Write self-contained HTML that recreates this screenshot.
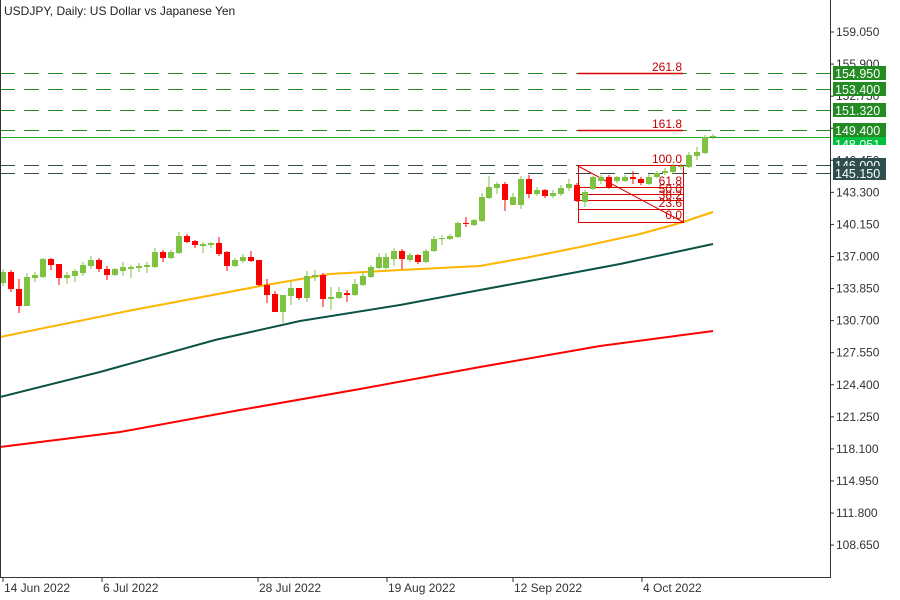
<!DOCTYPE html>
<html><head><meta charset="utf-8"><style>
html,body{margin:0;padding:0;background:#fff;}
svg{display:block;font-family:"Liberation Sans",sans-serif;}
</style></head><body>
<svg id="s" width="900" height="600" xmlns="http://www.w3.org/2000/svg">
<rect width="900" height="600" fill="#fff"/>
<g id="lines"></g>
<!-- MAs -->
<polyline fill="none" stroke="#ff0000" stroke-width="2" points="0,447 120,432 240,410 360,389 480,367 600,346 713,331"/>
<polyline fill="none" stroke="#0b5345" stroke-width="2" points="0,397 100,372 215,340 300,321 400,305 480,290 540,279 620,264 713,244"/>
<polyline fill="none" stroke="#ffb400" stroke-width="2" points="0,337 133,310 266,285 330,274 400,270 440,268 480,266 530,257 580,247 640,234 680,223 713,212"/>
<!-- fib -->
<g stroke="#dd0000" stroke-width="1" fill="none">
<rect x="578.5" y="165.5" width="105" height="57"/>
<line x1="578" y1="166" x2="683" y2="222"/>
<line x1="578" y1="187.5" x2="683" y2="187.5"/>
<line x1="578" y1="194.5" x2="683" y2="194.5"/>
<line x1="578" y1="200.5" x2="683" y2="200.5"/>
<line x1="578" y1="209.5" x2="683" y2="209.5"/>
<line x1="578" y1="73.5" x2="683" y2="73.5" stroke-width="1.5"/>
<line x1="578" y1="130.5" x2="683" y2="130.5" stroke-width="1.5"/>
</g>
<g fill="#c00000" font-size="12" text-anchor="end">
<text x="682" y="71">261.8</text><text x="682" y="128">161.8</text>
<text x="682" y="163">100.0</text><text x="682" y="185">61.8</text>
<text x="682" y="193">50.0</text><text x="682" y="199">38.2</text>
<text x="682" y="207">23.6</text><text x="682" y="219">0.0</text>
</g>
<g id="candles"></g>
<!-- axes -->
<line x1="830.5" y1="0" x2="830.5" y2="577" stroke="#333" stroke-width="1"/>
<line x1="0" y1="577.5" x2="831" y2="577.5" stroke="#333" stroke-width="1"/>
<line x1="0.5" y1="0" x2="0.5" y2="577" stroke="#333" stroke-width="1"/>
<g id="ticks" font-size="12" fill="#333"></g>
<text x="4" y="15" font-size="12" fill="#222">USDJPY, Daily:  US Dollar vs Japanese Yen</text>
<g id="labels" font-size="12.5"></g>
</svg>
<script>
var NS="http://www.w3.org/2000/svg";
function el(p,t,a,txt){var e=document.createElementNS(NS,t);for(var k in a)e.setAttribute(k,a[k]);if(txt)e.textContent=txt;document.getElementById(p).appendChild(e);return e;}
[[73,"#228b22"],[89,"#228b22"],[110,"#228b22"],[130,"#228b22"],[165,"#2f4f4f"],[173,"#2f4f4f"]].forEach(function(l){
el("lines","line",{x1:0,x2:830,y1:l[0]+.5,y2:l[0]+.5,stroke:l[1],"stroke-dasharray":"15,9"});});
el("lines","line",{x1:0,x2:830,y1:137.5,y2:137.5,stroke:"#22aa22"});
var C=[
["g",272,283,269,286],["r",272,289,270,292],["r",289,306,279,313],["g",277,306,273,306],["g",275,278,272,282],
["g",259,277,258,278],["r",259,265,258,270],["r",264,278,264,285],["g",275,278,272,284],["g",271,276,269,282],
["g",265,273,262,276],["g",260,266,256,269],["r",260,269,258,272],["r",269,275,266,280],["g",269,275,268,276],
["g",267,271,262,276],["g",267,269,265,278],["g",266,268,263,272],["g",265,267,262,273],["g",252,267,248,268],
["r",252,258,250,262],["g",252,258,250,259],["g",236,253,232,254],["r",236,242,234,243],["r",241,245,240,248],
["g",244,246,242,253],["g",243,245,242,248],["r",243,254,237,256],["r",252,266,251,271],["g",260,266,258,267],
["g",257,261,254,263],["r",257,261,251,262],["r",260,285,260,286],["r",285,295,279,303],["r",294,312,291,312],
["g",295,312,295,323],["g",288,296,281,305],["r",288,298,288,300],["g",276,298,271,302],["g",275,277,270,281],
["r",275,299,273,307],["g",297,299,287,310],["g",292,298,287,299],["r",293,295,290,302],["g",284,295,279,296],
["g",276,285,272,286],["g",267,277,265,278],["g",257,268,253,269],["g",257,268,253,269],["g",251,259,248,266],
["r",251,259,249,269],["g",255,260,253,262],["r",255,262,254,264],["g",251,262,249,263],["g",239,251,236,252],
["g",238,239,235,245],["g",236,239,234,240],["g",223,237,222,238],["r",223,224,217,227],["g",220,225,219,226],
["g",197,221,193,222],["g",187,198,176,199],["g",184,188,182,194],["r",184,200,182,211],["g",197,205,193,205],
["g",179,205,176,209],["r",179,194,175,198],["g",190,194,187,196],["r",190,196,189,198],["g",193,196,190,198],
["g",188,194,185,196],["g",184,188,179,191],["r",185,201,183,202],["g",192,202,190,207],["g",177,189,176,190],
["g",177,181,175,184],["r",177,187,175,189],["g",177,181,176,183],["g",177,181,175,182],["r",177,179,171,184],
["r",179,183,177,185],["g",177,184,174,185],["g",173,177,171,178],["g",171,173,168,175],["g",166,172,164,174],
["g",166,167,164,170],["g",155,167,152,168],["g",152,156,147,160],["g",137,153,135,154],["g",136,137,134,139]];
C.forEach(function(c,i){var x=3+8*i-(i>47?1:0)-(i>60?1:0);var col=c[0]=="g"?"#7fc241":"#ff0000";
el("candles","line",{x1:x,x2:x,y1:c[3],y2:c[4],stroke:col,"stroke-width":1});
var h=Math.max(c[2]-c[1],1);el("candles","rect",{x:x-3,y:c[1],width:6,height:h,fill:col});});
var P=["159.050","155.900","152.750","149.600","146.450","143.300","140.150","137.000","133.850","130.700","127.550","124.400","121.250","118.100","114.950","111.800","108.650"];
P.forEach(function(p,i){var y=32+i*32.07;el("ticks","line",{x1:830,x2:834,y1:y,y2:y,stroke:"#333"});el("ticks","text",{x:836,y:y+4},p);});
[[3,"14 Jun 2022"],[102,"6 Jul 2022"],[258,"28 Jul 2022"],[387,"19 Aug 2022"],[513,"12 Sep 2022"],[642,"4 Oct 2022"]].forEach(function(d){
el("ticks","line",{x1:d[0],x2:d[0],y1:577,y2:582,stroke:"#333"});el("ticks","text",{x:d[0]+1,y:592},d[1]);});
[[137,"#00c040","148.051",8],[66,"#228b22","154.950",14],[82,"#228b22","153.400",14],[103,"#228b22","151.320",14],[123,"#228b22","149.400",14],[158,"#2f4f4f","146.000",14],[166,"#2f4f4f","145.150",14]].forEach(function(l){
el("labels","rect",{x:833,y:l[0],width:53,height:l[3],fill:l[1]});el("labels","text",{x:835,y:l[0]+12,fill:"#fff"},l[2]);});
</script>
</body></html>
